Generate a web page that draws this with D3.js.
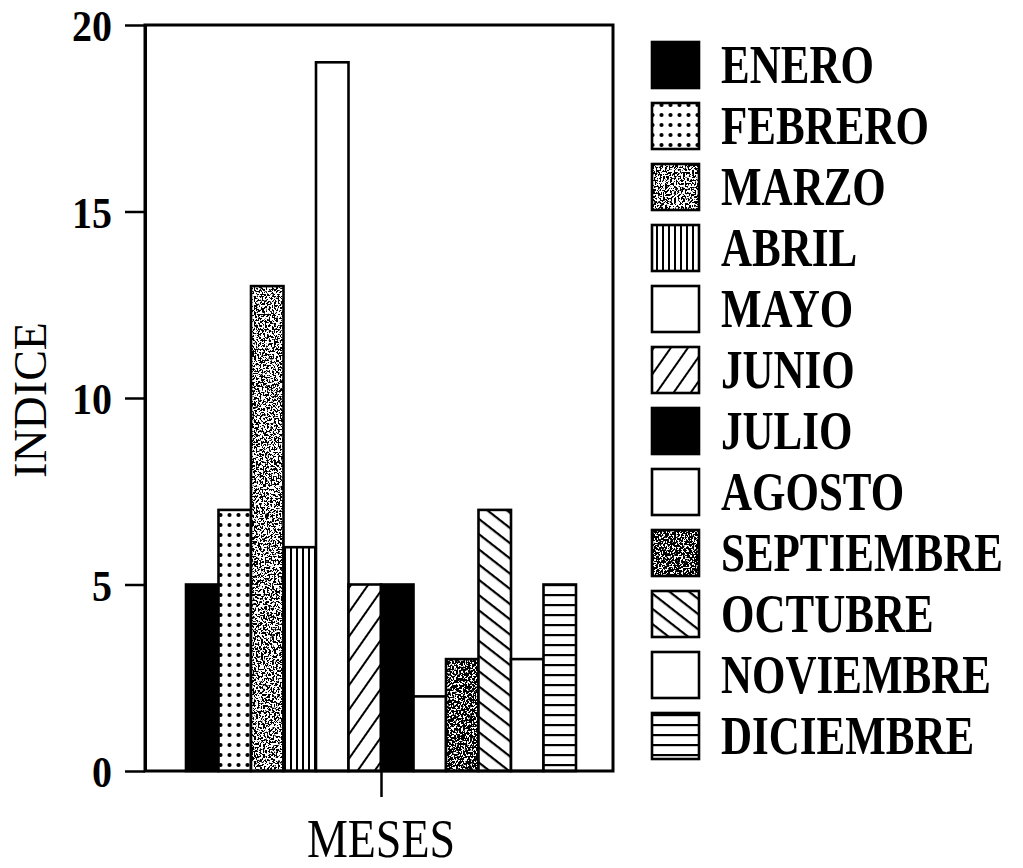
<!DOCTYPE html>
<html>
<head>
<meta charset="utf-8">
<script src="https://cdn.jsdelivr.net/npm/d3@7"></script>
<style>
  html, body { margin: 0; padding: 0; background: #fff; }
  svg { display: block; }
</style>
</head>
<body>
<script>
// ---- data ----
const months = ["ENERO","FEBRERO","MARZO","ABRIL","MAYO","JUNIO","JULIO","AGOSTO","SEPTIEMBRE","OCTUBRE","NOVIEMBRE","DICIEMBRE"];
const values = [5, 7, 13, 6, 19, 5, 5, 2, 3, 7, 3, 5];
const yTicks = [0, 5, 10, 15, 20];
const xCategory = ["MESES"];
const yTitle = "INDICE";

// ---- style mapping (fill type per month) ----
const fillType = {
  ENERO: "black", FEBRERO: "dots", MARZO: "stipLight", ABRIL: "vlines",
  MAYO: "white", JUNIO: "fwd", JULIO: "black", AGOSTO: "white",
  SEPTIEMBRE: "stipDark", OCTUBRE: "back", NOVIEMBRE: "white", DICIEMBRE: "hlines"
};

const W = 1023, H = 868;
const plot = { left: 145, right: 613, top: 25, bottom: 771 };
const barsRange = [186, 576];
const serif = "'Liberation Serif', 'Times New Roman', serif";
const stretch = 1.3; // scanned text is vertically elongated

const svg = d3.select("body").append("svg").attr("width", W).attr("height", H);
svg.append("rect").attr("width", W).attr("height", H).attr("fill", "#fff");

const defs = svg.append("defs");
// dots
const pd = defs.append("pattern").attr("id", "p-dots").attr("patternUnits", "userSpaceOnUse")
  .attr("width", 9).attr("height", 10);
pd.append("rect").attr("width", 9).attr("height", 10).attr("fill", "#fff");
pd.append("circle").attr("cx", 4.5).attr("cy", 5).attr("r", 2.1).attr("fill", "#000");
// vertical lines
const pv = defs.append("pattern").attr("id", "p-vlines").attr("patternUnits", "userSpaceOnUse")
  .attr("width", 6).attr("height", 10);
pv.append("rect").attr("width", 6).attr("height", 10).attr("fill", "#fff");
pv.append("rect").attr("x", 2).attr("width", 2).attr("height", 10).attr("fill", "#000");
// horizontal lines
const ph = defs.append("pattern").attr("id", "p-hlines").attr("patternUnits", "userSpaceOnUse")
  .attr("width", 10).attr("height", 10);
ph.append("rect").attr("width", 10).attr("height", 10).attr("fill", "#fff");
ph.append("rect").attr("y", 4).attr("width", 10).attr("height", 2.2).attr("fill", "#000");
// forward diagonal "/"
const pf = defs.append("pattern").attr("id", "p-fwd").attr("patternUnits", "userSpaceOnUse")
  .attr("width", 14).attr("height", 14).attr("patternTransform", "rotate(-55)");
pf.append("rect").attr("width", 14).attr("height", 14).attr("fill", "#fff");
pf.append("rect").attr("y", 6).attr("width", 14).attr("height", 2).attr("fill", "#000");
// backward diagonal "\"
const pb = defs.append("pattern").attr("id", "p-back").attr("patternUnits", "userSpaceOnUse")
  .attr("width", 12).attr("height", 12).attr("patternTransform", "rotate(38)");
pb.append("rect").attr("width", 12).attr("height", 12).attr("fill", "#fff");
pb.append("rect").attr("y", 5).attr("width", 12).attr("height", 2.2).attr("fill", "#000");

// stipple filters
function stipFilter(id, offset, seed) {
  const f = defs.append("filter").attr("id", id)
    .attr("filterUnits", "userSpaceOnUse").attr("x", 0).attr("y", 0).attr("width", W).attr("height", H)
    .attr("color-interpolation-filters", "sRGB");
  f.append("feTurbulence").attr("type", "fractalNoise").attr("baseFrequency", 0.55)
    .attr("numOctaves", 3).attr("seed", seed).attr("result", "t");
  f.append("feColorMatrix").attr("in", "t").attr("type", "matrix")
    .attr("values", `0 0 0 0 0  0 0 0 0 0  0 0 0 0 0  -30 0 0 0 ${offset}`).attr("result", "m");
  f.append("feComposite").attr("in", "m").attr("in2", "SourceAlpha").attr("operator", "in");
}
stipFilter("f-light", 15.0, 4);
stipFilter("f-dark", 17.0, 9);

function drawSwatch(g, x, y, w, h, type) {
  const base = { black: "#000", white: "#fff", dots: "url(#p-dots)", vlines: "url(#p-vlines)",
    hlines: "url(#p-hlines)", fwd: "url(#p-fwd)", back: "url(#p-back)", stipLight: "#fff", stipDark: "#fff" }[type];
  g.append("rect").attr("x", x).attr("y", y).attr("width", w).attr("height", h).attr("fill", base);
  if (type === "stipLight" || type === "stipDark") {
    g.append("rect").attr("x", x).attr("y", y).attr("width", w).attr("height", h)
      .attr("fill", "#000").attr("filter", type === "stipLight" ? "url(#f-light)" : "url(#f-dark)");
  }
  g.append("rect").attr("x", x).attr("y", y).attr("width", w).attr("height", h)
    .attr("fill", "none").attr("stroke", "#000").attr("stroke-width", 2.6);
}

// ---- scales ----
const x = d3.scaleBand().domain(months).range(barsRange).padding(0);
const xGroup = d3.scalePoint().domain(xCategory).range(barsRange).padding(0.5);
const y = d3.scaleLinear().domain([0, 20]).range([plot.bottom, plot.top]);

// ---- bars ----
const barsG = svg.append("g");
months.forEach((m, i) => {
  drawSwatch(barsG, x(m), y(values[i]), x.bandwidth(), y(0) - y(values[i]), fillType[m]);
});

// ---- frame ----
svg.append("rect").attr("x", plot.left).attr("y", plot.top)
  .attr("width", plot.right - plot.left).attr("height", plot.bottom - plot.top)
  .attr("fill", "none").attr("stroke", "#000").attr("stroke-width", 3);

// ---- y axis ----
const yAxis = svg.append("g").attr("transform", `translate(${plot.left},0)`)
  .call(d3.axisLeft(y).tickValues(yTicks).tickSize(20).tickSizeOuter(0).tickPadding(13));
yAxis.select(".domain").attr("stroke-width", 3);
yAxis.selectAll(".tick line").attr("stroke-width", 2.5);
yAxis.selectAll(".tick text").attr("font-family", serif).attr("font-weight", "bold")
  .attr("font-size", 40).attr("fill", "#000").attr("dy", "0.35em")
  .attr("transform", "scale(1,1.12)");

// ---- x axis ----
const xAxis = svg.append("g").attr("transform", `translate(0,${plot.bottom})`)
  .call(d3.axisBottom(xGroup).tickSize(26).tickSizeOuter(0).tickFormat(""));
xAxis.select(".domain").remove();
xAxis.selectAll(".tick line").attr("stroke-width", 2.5);

svg.append("text").attr("transform", `translate(${xGroup(xCategory[0])},857) scale(1,1.2)`)
  .attr("text-anchor", "middle").attr("font-family", serif).attr("font-size", 46)
  .attr("fill", "#000").text(xCategory[0]);

svg.append("text").attr("transform", `translate(46,400) rotate(-90)`)
  .attr("text-anchor", "middle").attr("font-family", serif).attr("font-size", 46)
  .attr("fill", "#000").text(yTitle);

// ---- legend ----
const leg = svg.append("g");
months.forEach((m, i) => {
  const top = 42 + i * 61;
  drawSwatch(leg, 652, top, 47, 46, fillType[m]);
  leg.append("text").attr("transform", `translate(721,${top + 41}) scale(1,${stretch})`)
    .attr("font-family", serif).attr("font-weight", "bold").attr("font-size", 43)
    .attr("fill", "#000").text(m);
});
</script>
</body>
</html>
